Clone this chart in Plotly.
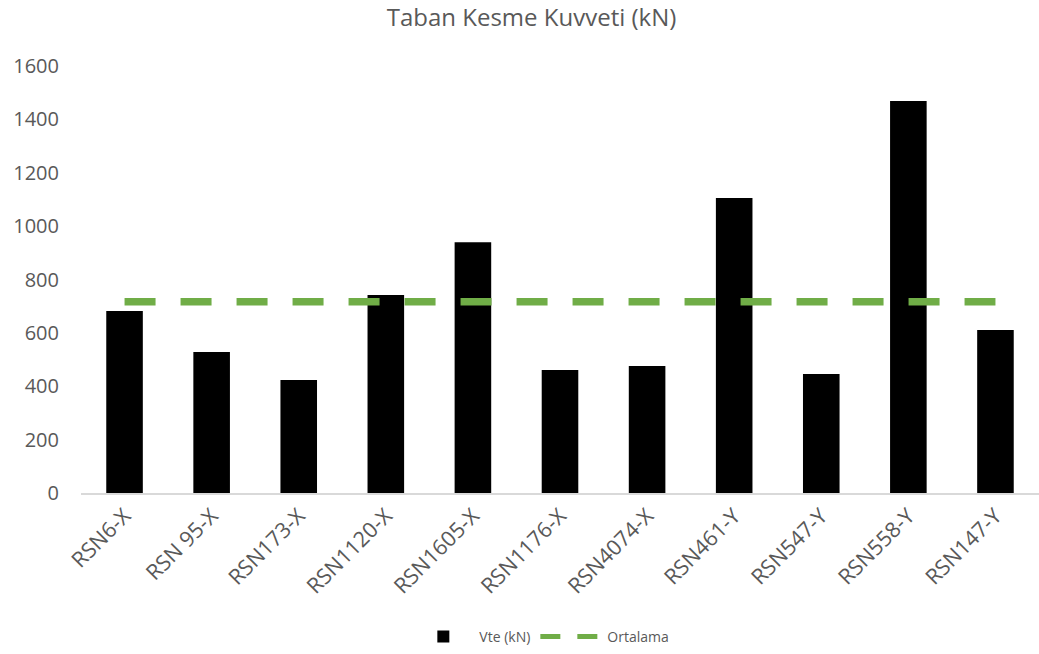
import plotly.graph_objects as go

# Ground motion records and base shear values (kN)
records = ["RSN6-X", "RSN 95-X", "RSN173-X", "RSN1120-X", "RSN1605-X", "RSN1176-X",
           "RSN4074-X", "RSN461-Y", "RSN547-Y", "RSN558-Y", "RSN147-Y"]
vte = [682, 528, 423, 742, 940, 461, 476, 1105, 446, 1469, 611]
ortalama_value = round(sum(vte) / len(vte), 1)
ortalama = [ortalama_value] * len(records)

y_ticks = [0, 200, 400, 600, 800, 1000, 1200, 1400, 1600]

text_color = "#595959"
green = "#70AD47"
font_family = "Open Sans, Noto Sans, sans-serif"

fig = go.Figure()
fig.add_trace(go.Bar(
    x=records, y=vte, name="Vte (kN)",
    marker=dict(color="#000000", line=dict(width=0)),
    width=0.42,
))
# Average line across all records
fig.add_trace(go.Scatter(
    x=records, y=ortalama, name="Ortalama", mode="lines", legendgroup="ort",
    showlegend=False,
    line=dict(color=green, width=7.5, dash="31px,25px"),
))
# Legend entry for the average line with a shorter dash pattern
fig.add_trace(go.Scatter(
    x=[None], y=[None], name="Ortalama", mode="lines", legendgroup="ort",
    line=dict(color=green, width=5, dash="20px,17px"),
))

fig.update_layout(
    width=1039, height=654,
    paper_bgcolor="white", plot_bgcolor="white",
    margin=dict(l=81, r=0, t=66, b=161),
    title=dict(text="Taban Kesme Kuvveti (kN)", x=0.5116, xref="container", xanchor="center",
               y=0.973, yref="container", yanchor="middle",
               font=dict(family=font_family, size=24, color=text_color)),
    font=dict(family=font_family, color=text_color),
    bargap=0.58,
    showlegend=True,
    legend=dict(orientation="h", x=0.48, xanchor="center", y=-0.337, yanchor="middle",
                font=dict(size=14, color=text_color), itemwidth=62, traceorder="normal"),
    xaxis=dict(tickangle=-45, showgrid=False, showline=True, linecolor="#D9D9D9", linewidth=1.5,
               ticks="", tickfont=dict(size=21.5, color=text_color), zeroline=False),
    yaxis=dict(range=[0, 1600], tickvals=y_ticks, showgrid=False, zeroline=False,
               showline=False, ticks="", ticklabelstandoff=21,
               tickfont=dict(size=20, color=text_color)),
)

fig.write_html("out.html")
